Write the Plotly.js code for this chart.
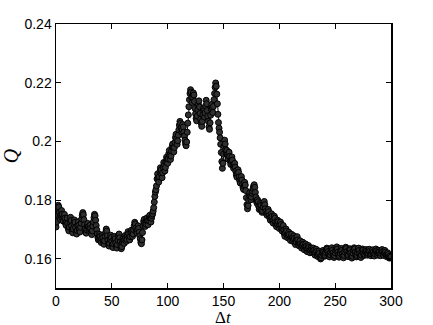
<!DOCTYPE html>
<html>
<head>
<meta charset="utf-8">
<script src="https://cdn.plot.ly/plotly-3.0.1.min.js"></script>
<style>
  html, body { margin: 0; padding: 0; background: #fff; }
  #chart { width: 433px; height: 325px; }
</style>
</head>
<body>
<div id="chart"></div>
<script>
// Q sampled every half time step, dt = 0 .. 300 (one row = 10 units of dt)
const dtStep = 0.5;
const qValues = [
  0.1708, 0.1725, 0.1748, 0.1770, 0.1782, 0.1776, 0.1758, 0.1741, 0.1733, 0.1750, 0.1764, 0.1752, 0.1736, 0.1728, 0.1742, 0.1751, 0.1738, 0.1722, 0.1714, 0.1726,
  0.1738, 0.1721, 0.1703, 0.1695, 0.1708, 0.1725, 0.1741, 0.1730, 0.1712, 0.1697, 0.1688, 0.1701, 0.1718, 0.1732, 0.1724, 0.1706, 0.1692, 0.1684, 0.1696, 0.1712,
  0.1726, 0.1714, 0.1698, 0.1691, 0.1707, 0.1721, 0.1735, 0.1748, 0.1757, 0.1750, 0.1733, 0.1716, 0.1701, 0.1692, 0.1687, 0.1698, 0.1712, 0.1720, 0.1708, 0.1695,
  0.1702, 0.1714, 0.1703, 0.1689, 0.1682, 0.1695, 0.1711, 0.1726, 0.1740, 0.1751, 0.1746, 0.1731, 0.1713, 0.1698, 0.1684, 0.1672, 0.1664, 0.1670, 0.1683, 0.1676,
  0.1662, 0.1655, 0.1668, 0.1679, 0.1672, 0.1658, 0.1649, 0.1661, 0.1677, 0.1690, 0.1701, 0.1694, 0.1678, 0.1663, 0.1651, 0.1643, 0.1652, 0.1667, 0.1680, 0.1672,
  0.1659, 0.1646, 0.1638, 0.1651, 0.1665, 0.1676, 0.1668, 0.1654, 0.1642, 0.1636, 0.1648, 0.1663, 0.1677, 0.1684, 0.1671, 0.1657, 0.1645, 0.1634, 0.1641, 0.1656,
  0.1668, 0.1661, 0.1652, 0.1664, 0.1679, 0.1671, 0.1659, 0.1666, 0.1680, 0.1692, 0.1685, 0.1672, 0.1664, 0.1675, 0.1689, 0.1697, 0.1688, 0.1676, 0.1684, 0.1699,
  0.1712, 0.1724, 0.1718, 0.1704, 0.1693, 0.1688, 0.1699, 0.1712, 0.1703, 0.1690, 0.1678, 0.1668, 0.1656, 0.1651, 0.1664, 0.1689, 0.1712, 0.1727, 0.1734, 0.1722,
  0.1710, 0.1718, 0.1731, 0.1739, 0.1728, 0.1716, 0.1729, 0.1742, 0.1748, 0.1736, 0.1725, 0.1738, 0.1747, 0.1753, 0.1762, 0.1774, 0.1793, 0.1812, 0.1827, 0.1835,
  0.1848, 0.1872, 0.1889, 0.1876, 0.1861, 0.1879, 0.1897, 0.1910, 0.1902, 0.1887, 0.1876, 0.1893, 0.1912, 0.1928, 0.1918, 0.1899, 0.1911, 0.1930, 0.1946, 0.1938,
  0.1925, 0.1940, 0.1958, 0.1969, 0.1952, 0.1938, 0.1950, 0.1967, 0.1982, 0.1991, 0.1978, 0.1964, 0.1979, 0.1996, 0.2013, 0.2024, 0.2008, 0.1990, 0.2002, 0.2021,
  0.2039, 0.2055, 0.2068, 0.2061, 0.2046, 0.2032, 0.2040, 0.2057, 0.2049, 0.2031, 0.2018, 0.2004, 0.1992, 0.1985, 0.1998, 0.2031, 0.2062, 0.2090, 0.2118, 0.2142,
  0.2163, 0.2176, 0.2168, 0.2149, 0.2132, 0.2150, 0.2165, 0.2158, 0.2136, 0.2112, 0.2094, 0.2078, 0.2070, 0.2086, 0.2108, 0.2126, 0.2138, 0.2117, 0.2095, 0.2076,
  0.2062, 0.2051, 0.2068, 0.2090, 0.2112, 0.2104, 0.2083, 0.2097, 0.2121, 0.2140, 0.2128, 0.2105, 0.2086, 0.2068, 0.2049, 0.2041, 0.2063, 0.2089, 0.2110, 0.2126,
  0.2114, 0.2098, 0.2119, 0.2142, 0.2163, 0.2184, 0.2199, 0.2188, 0.2161, 0.2128, 0.2092, 0.2064, 0.2045, 0.2031, 0.2012, 0.1990, 0.1962, 0.1931, 0.1908, 0.1925,
  0.1956, 0.1983, 0.2004, 0.1991, 0.1972, 0.1958, 0.1969, 0.1954, 0.1940, 0.1951, 0.1963, 0.1948, 0.1932, 0.1921, 0.1934, 0.1947, 0.1936, 0.1920, 0.1908, 0.1916,
  0.1925, 0.1912, 0.1898, 0.1886, 0.1878, 0.1891, 0.1903, 0.1894, 0.1879, 0.1866, 0.1858, 0.1872, 0.1880, 0.1868, 0.1853, 0.1842, 0.1836, 0.1849, 0.1860, 0.1851,
  0.1832, 0.1808, 0.1784, 0.1770, 0.1781, 0.1799, 0.1816, 0.1825, 0.1812, 0.1801, 0.1810, 0.1823, 0.1830, 0.1839, 0.1847, 0.1852, 0.1843, 0.1826, 0.1810, 0.1796,
  0.1789, 0.1801, 0.1794, 0.1779, 0.1768, 0.1775, 0.1788, 0.1781, 0.1766, 0.1758, 0.1763, 0.1776, 0.1789, 0.1795, 0.1784, 0.1770, 0.1761, 0.1752, 0.1748, 0.1757,
  0.1768, 0.1760, 0.1747, 0.1738, 0.1731, 0.1742, 0.1753, 0.1744, 0.1729, 0.1721, 0.1733, 0.1745, 0.1738, 0.1724, 0.1715, 0.1709, 0.1718, 0.1731, 0.1726, 0.1712,
  0.1703, 0.1714, 0.1725, 0.1716, 0.1702, 0.1694, 0.1706, 0.1713, 0.1698, 0.1685, 0.1676, 0.1688, 0.1701, 0.1694, 0.1680, 0.1671, 0.1679, 0.1690, 0.1683, 0.1669,
  0.1662, 0.1674, 0.1683, 0.1671, 0.1659, 0.1666, 0.1678, 0.1670, 0.1656, 0.1648, 0.1657, 0.1669, 0.1675, 0.1664, 0.1651, 0.1644, 0.1653, 0.1661, 0.1650, 0.1641,
  0.1636, 0.1645, 0.1656, 0.1649, 0.1637, 0.1630, 0.1641, 0.1650, 0.1642, 0.1631, 0.1624, 0.1633, 0.1645, 0.1638, 0.1627, 0.1620, 0.1629, 0.1637, 0.1631, 0.1622,
  0.1628, 0.1636, 0.1629, 0.1618, 0.1612, 0.1621, 0.1632, 0.1625, 0.1614, 0.1607, 0.1615, 0.1626, 0.1619, 0.1606, 0.1599, 0.1603, 0.1611, 0.1620, 0.1628, 0.1622,
  0.1614, 0.1608, 0.1612, 0.1621, 0.1630, 0.1636, 0.1632, 0.1624, 0.1615, 0.1609, 0.1606, 0.1613, 0.1622, 0.1631, 0.1637, 0.1629, 0.1619, 0.1611, 0.1604, 0.1610,
  0.1620, 0.1628, 0.1634, 0.1640, 0.1633, 0.1622, 0.1613, 0.1605, 0.1609, 0.1618, 0.1627, 0.1635, 0.1628, 0.1616, 0.1608, 0.1603, 0.1611, 0.1623, 0.1632, 0.1639,
  0.1635, 0.1624, 0.1614, 0.1607, 0.1612, 0.1625, 0.1634, 0.1630, 0.1619, 0.1610, 0.1602, 0.1608, 0.1619, 0.1629, 0.1637, 0.1633, 0.1622, 0.1613, 0.1606, 0.1611,
  0.1621, 0.1630, 0.1636, 0.1628, 0.1617, 0.1609, 0.1604, 0.1612, 0.1624, 0.1633, 0.1629, 0.1618, 0.1611, 0.1615, 0.1624, 0.1631, 0.1626, 0.1617, 0.1612, 0.1618,
  0.1627, 0.1632, 0.1625, 0.1615, 0.1610, 0.1616, 0.1625, 0.1630, 0.1622, 0.1613, 0.1609, 0.1617, 0.1626, 0.1633, 0.1627, 0.1618, 0.1612, 0.1619, 0.1628, 0.1623,
  0.1614, 0.1610, 0.1618, 0.1627, 0.1631, 0.1624, 0.1615, 0.1611, 0.1619, 0.1628, 0.1622, 0.1613, 0.1607, 0.1612, 0.1620, 0.1614, 0.1606, 0.1602, 0.1608, 0.1603,
  0.1606,
];
const dtValues = qValues.map((_, i) => i * dtStep);

const xTicks = [0, 50, 100, 150, 200, 250, 300];
const yTicks = [0.16, 0.18, 0.2, 0.22, 0.24];
const yTickText = ['0.16', '0.18', '0.2', '0.22', '0.24'];

const axisCommon = {
  showline: true,
  linecolor: '#000',
  linewidth: 1.5,
  mirror: 'ticks',
  ticks: 'inside',
  ticklen: 5,
  tickwidth: 1,
  tickcolor: '#000',
  showgrid: false,
  zeroline: false,
  tickfont: { family: 'Liberation Sans, Arial, sans-serif', size: 14, color: '#000' },
};

const serif = 'Liberation Serif, Times New Roman, serif';

const trace = {
  x: dtValues,
  y: qValues,
  type: 'scatter',
  mode: 'lines+markers',
  line: { color: '#000', width: 1 },
  marker: { symbol: 'circle', size: 6, color: '#303030', line: { color: '#000', width: 1 } },
  showlegend: false,
};

const layout = {
  width: 433,
  height: 325,
  margin: { l: 56, r: 42, t: 24, b: 37 },
  paper_bgcolor: '#fff',
  plot_bgcolor: '#fff',
  xaxis: {
    ...axisCommon,
    range: [0, 300],
    tickvals: xTicks,
    ticktext: xTicks.map(String),
  },
  yaxis: {
    ...axisCommon,
    range: [0.15, 0.24],
    tickvals: yTicks,
    ticktext: yTickText,
    title: { text: '<i>Q</i>', font: { family: serif, size: 20, color: '#000' }, standoff: 7 },
  },
  // x label sits just under the tick labels, as in the original figure;
  // the box is kept short so it fits between the tick labels and the edge
  annotations: [{
    xref: 'paper', yref: 'paper',
    x: 0.5, y: -0.108,
    xanchor: 'center', yanchor: 'middle',
    height: 16,
    borderpad: 0,
    text: 'Δ<i>t</i>',
    showarrow: false,
    font: { family: serif, size: 17, color: '#000' },
  }],
};

Plotly.newPlot('chart', [trace], layout, { staticPlot: true, displayModeBar: false });
</script>
</body>
</html>
